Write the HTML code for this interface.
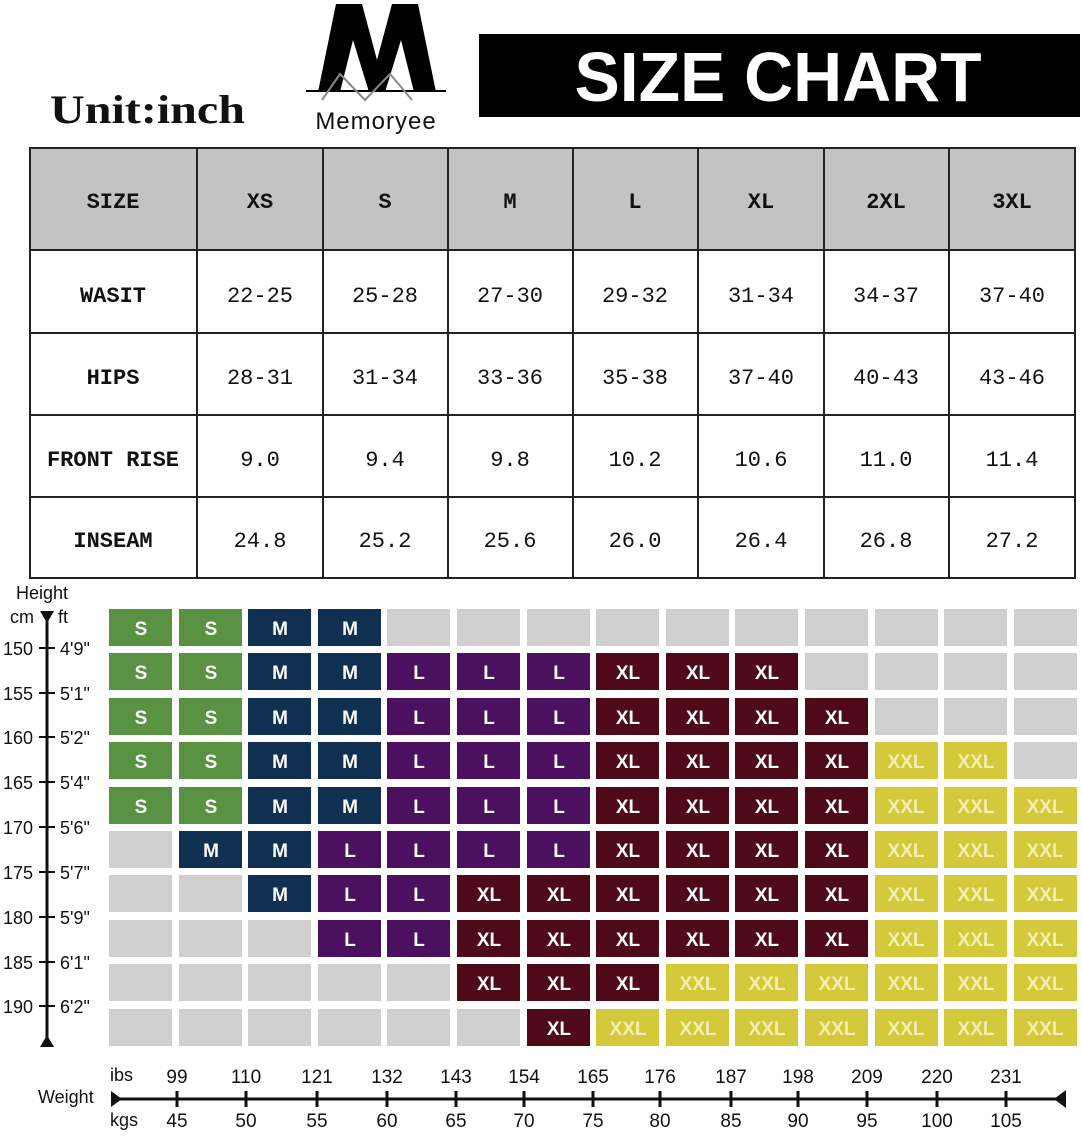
<!DOCTYPE html>
<html><head><meta charset="utf-8"><style>
html,body{margin:0;padding:0;background:#fff;}
svg{display:block;}
.h{font-family:"Liberation Mono",monospace;font-weight:bold;font-size:22px;fill:#111;text-anchor:middle;}
.v{font-family:"Liberation Mono",monospace;font-size:22px;fill:#111;text-anchor:middle;}
.c{font-family:"Liberation Sans",sans-serif;font-weight:bold;font-size:19px;fill:#fff;text-anchor:middle;}
.y{font-family:"Liberation Sans",sans-serif;font-weight:bold;font-size:19px;fill:#f4efb0;text-anchor:middle;}
.a{font-family:"Liberation Sans",sans-serif;font-size:18px;fill:#111;}
.w{font-family:"Liberation Sans",sans-serif;font-size:19px;fill:#111;}
</style></head><body>
<svg width="1082" height="1136" viewBox="0 0 1082 1136" xmlns="http://www.w3.org/2000/svg">
<!-- header -->
<text x="50" y="123" font-family="Liberation Serif,serif" font-weight="bold" font-size="40" fill="#111" textLength="195" lengthAdjust="spacingAndGlyphs">Unit:inch</text>
<polygon points="318,92 336,4 362,4 377,60 392,4 418,4 436,92 414,92 401,40 385,92 369,92 353,40 340,92" fill="#000"/>
<line x1="306" y1="91" x2="446" y2="91" stroke="#000" stroke-width="2"/>
<polyline points="322,100 340,74 365,100 390,74 412,100" fill="none" stroke="#888" stroke-width="2"/>
<text x="376" y="129" font-family="Liberation Sans,sans-serif" font-size="24" fill="#111" text-anchor="middle" letter-spacing="1">Memoryee</text>
<rect x="479" y="34" width="601" height="83" fill="#000"/>
<text x="778" y="101" font-family="Liberation Sans,sans-serif" font-weight="bold" font-size="70" fill="#fff" text-anchor="middle" textLength="407" lengthAdjust="spacingAndGlyphs">SIZE CHART</text>
<!-- table -->
<rect x="30" y="148" width="1045" height="102" fill="#c3c3c3"/>
<g stroke="#222" stroke-width="2" fill="none">
<rect x="30" y="148" width="1045" height="430"/>
<line x1="30" y1="250" x2="1075" y2="250"/><line x1="30" y1="333" x2="1075" y2="333"/>
<line x1="30" y1="415" x2="1075" y2="415"/><line x1="30" y1="497" x2="1075" y2="497"/>
<line x1="197" y1="148" x2="197" y2="578"/><line x1="323" y1="148" x2="323" y2="578"/>
<line x1="448" y1="148" x2="448" y2="578"/><line x1="573" y1="148" x2="573" y2="578"/>
<line x1="698" y1="148" x2="698" y2="578"/><line x1="824" y1="148" x2="824" y2="578"/>
<line x1="949" y1="148" x2="949" y2="578"/>
</g>
<g class="h">
<text x="113" y="208">SIZE</text><text x="260" y="208">XS</text><text x="385" y="208">S</text><text x="510" y="208">M</text><text x="635" y="208">L</text><text x="761" y="208">XL</text><text x="886" y="208">2XL</text><text x="1012" y="208">3XL</text>
<text x="113" y="302">WASIT</text><text x="113" y="384">HIPS</text><text x="113" y="466">FRONT RISE</text><text x="113" y="547">INSEAM</text>
</g>
<g class="v">
<text x="260" y="302">22-25</text><text x="385" y="302">25-28</text><text x="510" y="302">27-30</text><text x="635" y="302">29-32</text><text x="761" y="302">31-34</text><text x="886" y="302">34-37</text><text x="1012" y="302">37-40</text>
<text x="260" y="384">28-31</text><text x="385" y="384">31-34</text><text x="510" y="384">33-36</text><text x="635" y="384">35-38</text><text x="761" y="384">37-40</text><text x="886" y="384">40-43</text><text x="1012" y="384">43-46</text>
<text x="260" y="466">9.0</text><text x="385" y="466">9.4</text><text x="510" y="466">9.8</text><text x="635" y="466">10.2</text><text x="761" y="466">10.6</text><text x="886" y="466">11.0</text><text x="1012" y="466">11.4</text>
<text x="260" y="547">24.8</text><text x="385" y="547">25.2</text><text x="510" y="547">25.6</text><text x="635" y="547">26.0</text><text x="761" y="547">26.4</text><text x="886" y="547">26.8</text><text x="1012" y="547">27.2</text>
</g>
<!-- left axis -->
<text class="a" x="16" y="599">Height</text>
<text class="a" x="10" y="623" font-size="15">cm</text><text class="a" x="58" y="623" font-size="15">ft</text>
<polygon points="40,611 54,611 47,623" fill="#111"/>
<line x1="47" y1="611" x2="47" y2="1042" stroke="#111" stroke-width="3"/>
<polygon points="40,1047 54,1047 47,1035" fill="#111"/>
<g stroke="#111" stroke-width="2">
<line x1="39" y1="648" x2="55" y2="648"/><line x1="39" y1="693" x2="55" y2="693"/><line x1="39" y1="737" x2="55" y2="737"/><line x1="39" y1="782" x2="55" y2="782"/><line x1="39" y1="827" x2="55" y2="827"/><line x1="39" y1="872" x2="55" y2="872"/><line x1="39" y1="917" x2="55" y2="917"/><line x1="39" y1="962" x2="55" y2="962"/><line x1="39" y1="1006" x2="55" y2="1006"/>
</g>
<g class="a">
<text x="3" y="655">150</text><text x="60" y="655">4'9"</text>
<text x="3" y="700">155</text><text x="60" y="700">5'1"</text>
<text x="3" y="744">160</text><text x="60" y="744">5'2"</text>
<text x="3" y="789">165</text><text x="60" y="789">5'4"</text>
<text x="3" y="834">170</text><text x="60" y="834">5'6"</text>
<text x="3" y="879">175</text><text x="60" y="879">5'7"</text>
<text x="3" y="924">180</text><text x="60" y="924">5'9"</text>
<text x="3" y="969">185</text><text x="60" y="969">6'1"</text>
<text x="3" y="1013">190</text><text x="60" y="1013">6'2"</text>
</g>
<!-- grid: background gray -->
<g fill="#cfcfcf">
<rect x="109" y="609" width="63" height="37"/><rect x="179" y="609" width="63" height="37"/><rect x="248" y="609" width="63" height="37"/><rect x="318" y="609" width="63" height="37"/><rect x="387" y="609" width="63" height="37"/><rect x="457" y="609" width="63" height="37"/><rect x="527" y="609" width="63" height="37"/><rect x="596" y="609" width="63" height="37"/><rect x="666" y="609" width="63" height="37"/><rect x="735" y="609" width="63" height="37"/><rect x="805" y="609" width="63" height="37"/><rect x="875" y="609" width="63" height="37"/><rect x="944" y="609" width="63" height="37"/><rect x="1014" y="609" width="63" height="37"/>
<rect x="805" y="653" width="63" height="37"/><rect x="875" y="653" width="63" height="37"/><rect x="944" y="653" width="63" height="37"/><rect x="1014" y="653" width="63" height="37"/>
<rect x="875" y="698" width="63" height="37"/><rect x="944" y="698" width="63" height="37"/><rect x="1014" y="698" width="63" height="37"/>
<rect x="1014" y="742" width="63" height="37"/>
<rect x="109" y="831" width="63" height="37"/>
<rect x="109" y="875" width="63" height="37"/><rect x="179" y="875" width="63" height="37"/>
<rect x="109" y="920" width="63" height="37"/><rect x="179" y="920" width="63" height="37"/><rect x="248" y="920" width="63" height="37"/>
<rect x="109" y="964" width="63" height="37"/><rect x="179" y="964" width="63" height="37"/><rect x="248" y="964" width="63" height="37"/><rect x="318" y="964" width="63" height="37"/><rect x="387" y="964" width="63" height="37"/>
<rect x="109" y="1009" width="63" height="37"/><rect x="179" y="1009" width="63" height="37"/><rect x="248" y="1009" width="63" height="37"/><rect x="318" y="1009" width="63" height="37"/><rect x="387" y="1009" width="63" height="37"/><rect x="457" y="1009" width="63" height="37"/>
</g>
<g fill="#5a9243">
<rect x="109" y="609" width="63" height="37"/><rect x="179" y="609" width="63" height="37"/>
<rect x="109" y="653" width="63" height="37"/><rect x="179" y="653" width="63" height="37"/>
<rect x="109" y="698" width="63" height="37"/><rect x="179" y="698" width="63" height="37"/>
<rect x="109" y="742" width="63" height="37"/><rect x="179" y="742" width="63" height="37"/>
<rect x="109" y="787" width="63" height="37"/><rect x="179" y="787" width="63" height="37"/>
</g>
<g fill="#0f3050">
<rect x="248" y="609" width="63" height="37"/><rect x="318" y="609" width="63" height="37"/>
<rect x="248" y="653" width="63" height="37"/><rect x="318" y="653" width="63" height="37"/>
<rect x="248" y="698" width="63" height="37"/><rect x="318" y="698" width="63" height="37"/>
<rect x="248" y="742" width="63" height="37"/><rect x="318" y="742" width="63" height="37"/>
<rect x="248" y="787" width="63" height="37"/><rect x="318" y="787" width="63" height="37"/>
<rect x="179" y="831" width="63" height="37"/><rect x="248" y="831" width="63" height="37"/>
<rect x="248" y="875" width="63" height="37"/>
</g>
<g fill="#4b1160">
<rect x="387" y="653" width="63" height="37"/><rect x="457" y="653" width="63" height="37"/><rect x="527" y="653" width="63" height="37"/>
<rect x="387" y="698" width="63" height="37"/><rect x="457" y="698" width="63" height="37"/><rect x="527" y="698" width="63" height="37"/>
<rect x="387" y="742" width="63" height="37"/><rect x="457" y="742" width="63" height="37"/><rect x="527" y="742" width="63" height="37"/>
<rect x="387" y="787" width="63" height="37"/><rect x="457" y="787" width="63" height="37"/><rect x="527" y="787" width="63" height="37"/>
<rect x="318" y="831" width="63" height="37"/><rect x="387" y="831" width="63" height="37"/><rect x="457" y="831" width="63" height="37"/><rect x="527" y="831" width="63" height="37"/>
<rect x="318" y="875" width="63" height="37"/><rect x="387" y="875" width="63" height="37"/>
<rect x="318" y="920" width="63" height="37"/><rect x="387" y="920" width="63" height="37"/>
</g>
<g fill="#4e0a18">
<rect x="596" y="653" width="63" height="37"/><rect x="666" y="653" width="63" height="37"/><rect x="735" y="653" width="63" height="37"/>
<rect x="596" y="698" width="63" height="37"/><rect x="666" y="698" width="63" height="37"/><rect x="735" y="698" width="63" height="37"/><rect x="805" y="698" width="63" height="37"/>
<rect x="596" y="742" width="63" height="37"/><rect x="666" y="742" width="63" height="37"/><rect x="735" y="742" width="63" height="37"/><rect x="805" y="742" width="63" height="37"/>
<rect x="596" y="787" width="63" height="37"/><rect x="666" y="787" width="63" height="37"/><rect x="735" y="787" width="63" height="37"/><rect x="805" y="787" width="63" height="37"/>
<rect x="596" y="831" width="63" height="37"/><rect x="666" y="831" width="63" height="37"/><rect x="735" y="831" width="63" height="37"/><rect x="805" y="831" width="63" height="37"/>
<rect x="457" y="875" width="63" height="37"/><rect x="527" y="875" width="63" height="37"/><rect x="596" y="875" width="63" height="37"/><rect x="666" y="875" width="63" height="37"/><rect x="735" y="875" width="63" height="37"/><rect x="805" y="875" width="63" height="37"/>
<rect x="457" y="920" width="63" height="37"/><rect x="527" y="920" width="63" height="37"/><rect x="596" y="920" width="63" height="37"/><rect x="666" y="920" width="63" height="37"/><rect x="735" y="920" width="63" height="37"/><rect x="805" y="920" width="63" height="37"/>
<rect x="457" y="964" width="63" height="37"/><rect x="527" y="964" width="63" height="37"/><rect x="596" y="964" width="63" height="37"/>
<rect x="527" y="1009" width="63" height="37"/>
</g>
<g fill="#d4c93a">
<rect x="875" y="742" width="63" height="37"/><rect x="944" y="742" width="63" height="37"/>
<rect x="875" y="787" width="63" height="37"/><rect x="944" y="787" width="63" height="37"/><rect x="1014" y="787" width="63" height="37"/>
<rect x="875" y="831" width="63" height="37"/><rect x="944" y="831" width="63" height="37"/><rect x="1014" y="831" width="63" height="37"/>
<rect x="875" y="875" width="63" height="37"/><rect x="944" y="875" width="63" height="37"/><rect x="1014" y="875" width="63" height="37"/>
<rect x="875" y="920" width="63" height="37"/><rect x="944" y="920" width="63" height="37"/><rect x="1014" y="920" width="63" height="37"/>
<rect x="666" y="964" width="63" height="37"/><rect x="735" y="964" width="63" height="37"/><rect x="805" y="964" width="63" height="37"/><rect x="875" y="964" width="63" height="37"/><rect x="944" y="964" width="63" height="37"/><rect x="1014" y="964" width="63" height="37"/>
<rect x="596" y="1009" width="63" height="37"/><rect x="666" y="1009" width="63" height="37"/><rect x="735" y="1009" width="63" height="37"/><rect x="805" y="1009" width="63" height="37"/><rect x="875" y="1009" width="63" height="37"/><rect x="944" y="1009" width="63" height="37"/><rect x="1014" y="1009" width="63" height="37"/>
</g>
<g class="c">
<text x="141" y="635">S</text><text x="211" y="635">S</text><text x="280" y="635">M</text><text x="350" y="635">M</text>
<text x="141" y="679">S</text><text x="211" y="679">S</text><text x="280" y="679">M</text><text x="350" y="679">M</text><text x="419" y="679">L</text><text x="489" y="679">L</text><text x="559" y="679">L</text><text x="628" y="679">XL</text><text x="698" y="679">XL</text><text x="767" y="679">XL</text>
<text x="141" y="724">S</text><text x="211" y="724">S</text><text x="280" y="724">M</text><text x="350" y="724">M</text><text x="419" y="724">L</text><text x="489" y="724">L</text><text x="559" y="724">L</text><text x="628" y="724">XL</text><text x="698" y="724">XL</text><text x="767" y="724">XL</text><text x="837" y="724">XL</text>
<text x="141" y="768">S</text><text x="211" y="768">S</text><text x="280" y="768">M</text><text x="350" y="768">M</text><text x="419" y="768">L</text><text x="489" y="768">L</text><text x="559" y="768">L</text><text x="628" y="768">XL</text><text x="698" y="768">XL</text><text x="767" y="768">XL</text><text x="837" y="768">XL</text>
<text x="141" y="813">S</text><text x="211" y="813">S</text><text x="280" y="813">M</text><text x="350" y="813">M</text><text x="419" y="813">L</text><text x="489" y="813">L</text><text x="559" y="813">L</text><text x="628" y="813">XL</text><text x="698" y="813">XL</text><text x="767" y="813">XL</text><text x="837" y="813">XL</text>
<text x="211" y="857">M</text><text x="280" y="857">M</text><text x="350" y="857">L</text><text x="419" y="857">L</text><text x="489" y="857">L</text><text x="559" y="857">L</text><text x="628" y="857">XL</text><text x="698" y="857">XL</text><text x="767" y="857">XL</text><text x="837" y="857">XL</text>
<text x="280" y="901">M</text><text x="350" y="901">L</text><text x="419" y="901">L</text><text x="489" y="901">XL</text><text x="559" y="901">XL</text><text x="628" y="901">XL</text><text x="698" y="901">XL</text><text x="767" y="901">XL</text><text x="837" y="901">XL</text>
<text x="350" y="946">L</text><text x="419" y="946">L</text><text x="489" y="946">XL</text><text x="559" y="946">XL</text><text x="628" y="946">XL</text><text x="698" y="946">XL</text><text x="767" y="946">XL</text><text x="837" y="946">XL</text>
<text x="489" y="990">XL</text><text x="559" y="990">XL</text><text x="628" y="990">XL</text>
<text x="559" y="1035">XL</text>
</g>
<g class="y">
<text x="906" y="768">XXL</text><text x="976" y="768">XXL</text>
<text x="906" y="813">XXL</text><text x="976" y="813">XXL</text><text x="1045" y="813">XXL</text>
<text x="906" y="857">XXL</text><text x="976" y="857">XXL</text><text x="1045" y="857">XXL</text>
<text x="906" y="901">XXL</text><text x="976" y="901">XXL</text><text x="1045" y="901">XXL</text>
<text x="906" y="946">XXL</text><text x="976" y="946">XXL</text><text x="1045" y="946">XXL</text>
<text x="698" y="990">XXL</text><text x="767" y="990">XXL</text><text x="837" y="990">XXL</text><text x="906" y="990">XXL</text><text x="976" y="990">XXL</text><text x="1045" y="990">XXL</text>
<text x="628" y="1035">XXL</text><text x="698" y="1035">XXL</text><text x="767" y="1035">XXL</text><text x="837" y="1035">XXL</text><text x="906" y="1035">XXL</text><text x="976" y="1035">XXL</text><text x="1045" y="1035">XXL</text>
</g>
<!-- weight axis -->
<text class="a" x="38" y="1103">Weight</text>
<text class="a" x="110" y="1081" font-size="15">ibs</text>
<text class="a" x="110" y="1126" font-size="15">kgs</text>
<polygon points="111,1091 111,1107 122,1099" fill="#111"/>
<line x1="111" y1="1099" x2="1062" y2="1099" stroke="#111" stroke-width="3"/>
<polygon points="1066,1090 1066,1108 1054,1099" fill="#111"/>
<g stroke="#111" stroke-width="3">
<line x1="177" y1="1091" x2="177" y2="1107"/><line x1="246" y1="1091" x2="246" y2="1107"/><line x1="317" y1="1091" x2="317" y2="1107"/><line x1="387" y1="1091" x2="387" y2="1107"/><line x1="456" y1="1091" x2="456" y2="1107"/><line x1="524" y1="1091" x2="524" y2="1107"/><line x1="593" y1="1091" x2="593" y2="1107"/><line x1="660" y1="1091" x2="660" y2="1107"/><line x1="731" y1="1091" x2="731" y2="1107"/><line x1="798" y1="1091" x2="798" y2="1107"/><line x1="867" y1="1091" x2="867" y2="1107"/><line x1="937" y1="1091" x2="937" y2="1107"/><line x1="1006" y1="1091" x2="1006" y2="1107"/>
</g>
<g class="w" text-anchor="middle">
<text x="177" y="1083">99</text><text x="246" y="1083">110</text><text x="317" y="1083">121</text><text x="387" y="1083">132</text><text x="456" y="1083">143</text><text x="524" y="1083">154</text><text x="593" y="1083">165</text><text x="660" y="1083">176</text><text x="731" y="1083">187</text><text x="798" y="1083">198</text><text x="867" y="1083">209</text><text x="937" y="1083">220</text><text x="1006" y="1083">231</text>
<text x="177" y="1127">45</text><text x="246" y="1127">50</text><text x="317" y="1127">55</text><text x="387" y="1127">60</text><text x="456" y="1127">65</text><text x="524" y="1127">70</text><text x="593" y="1127">75</text><text x="660" y="1127">80</text><text x="731" y="1127">85</text><text x="798" y="1127">90</text><text x="867" y="1127">95</text><text x="937" y="1127">100</text><text x="1006" y="1127">105</text>
</g>
</svg>
</body></html>
